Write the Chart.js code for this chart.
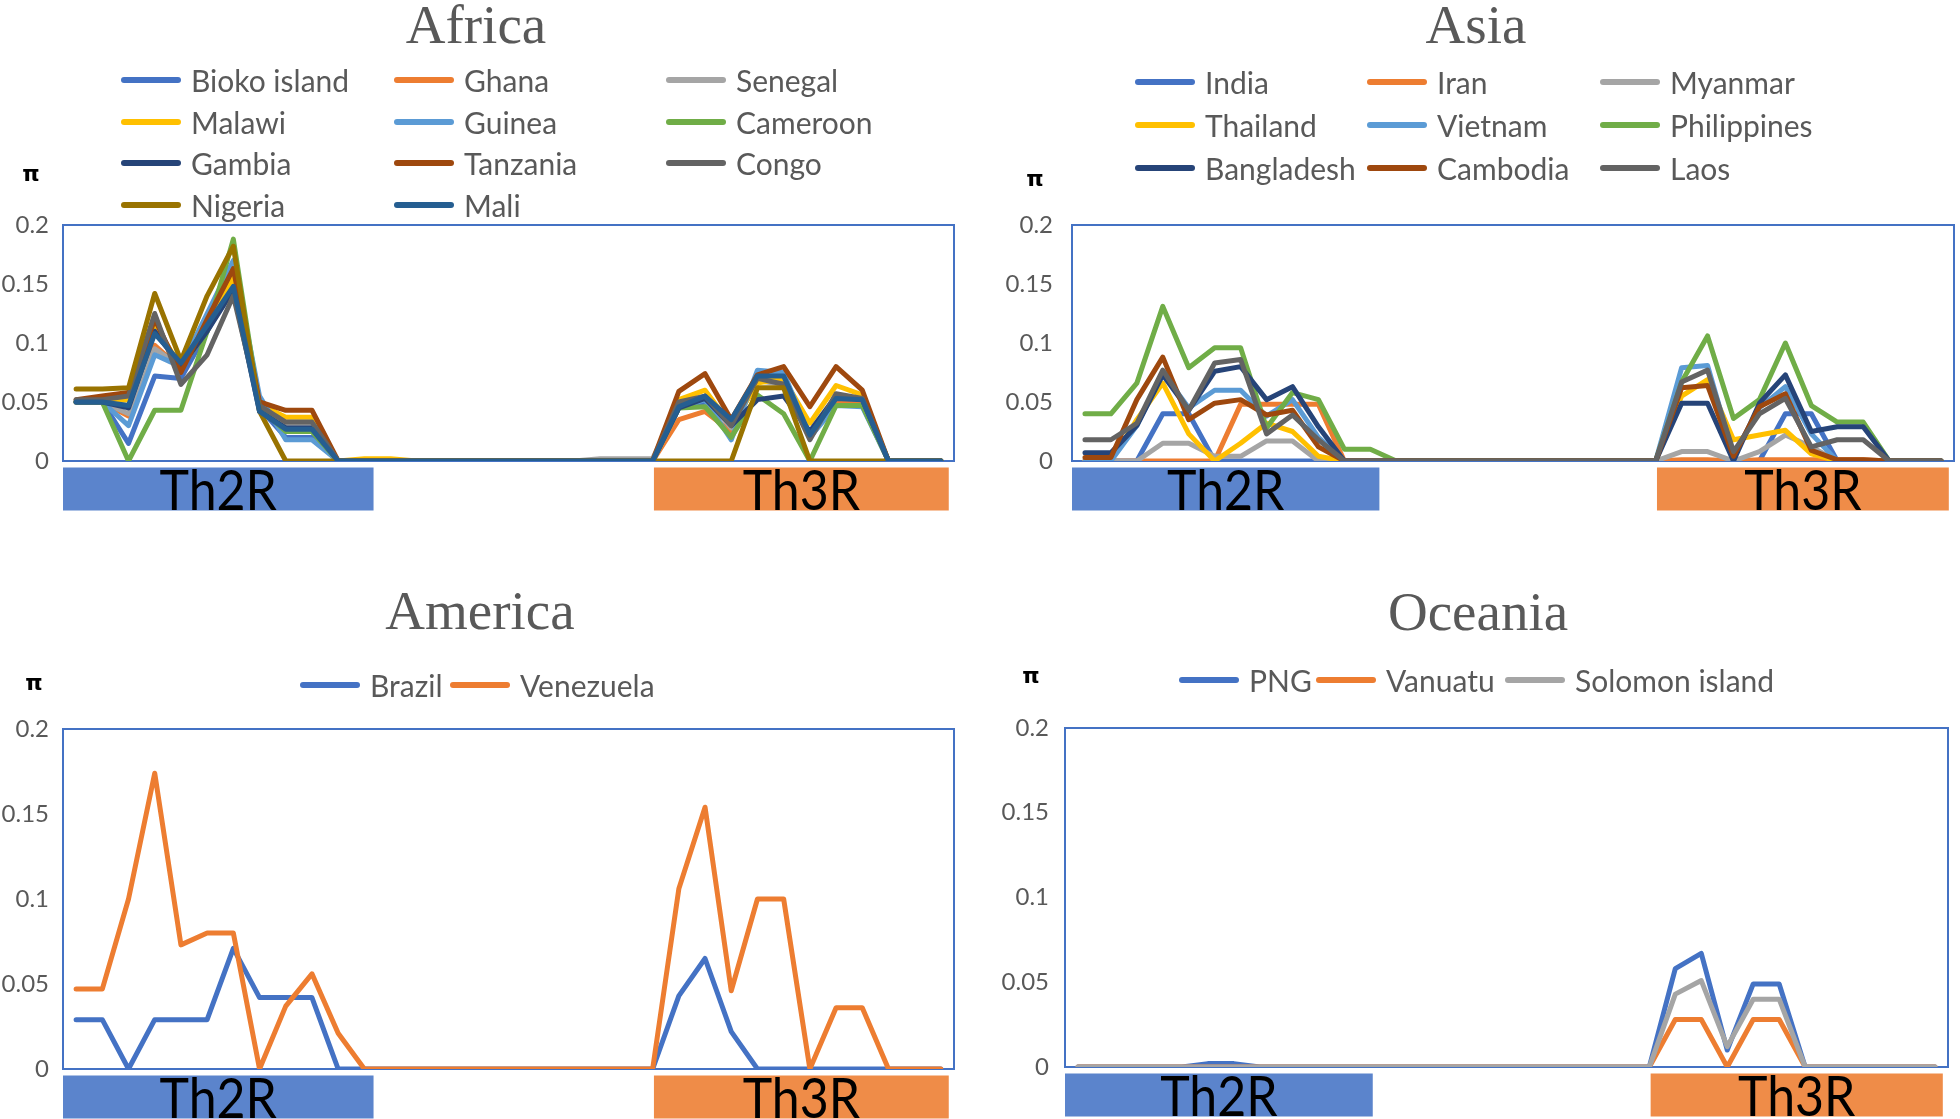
<!DOCTYPE html>
<html>
<head>
<meta charset="utf-8">
<script src="https://cdn.jsdelivr.net/npm/chart.js@4.4.1/dist/chart.umd.min.js"></script>
<style>
  html, body { margin:0; padding:0; background:#ffffff; }
  body { width:1960px; height:1119px; position:relative; overflow:hidden; font-family:Lato, 'Open Sans', sans-serif; }
  canvas { position:absolute; }
  .title { position:absolute; font-family:'Liberation Serif', 'DejaVu Serif', serif; font-size:55px; color:#595959; line-height:1; white-space:nowrap; transform:translate(-50%,-50%); }
  .leg { position:absolute; display:flex; align-items:center; transform:translateY(-50%); font-family:Lato, sans-serif; font-size:30px; color:#595959; line-height:1; white-space:nowrap; }
  .leg .ln { display:inline-block; width:60px; height:6px; border-radius:3px; margin-right:10px; }
  .pi { position:absolute; font-family:'DejaVu Sans', sans-serif; font-weight:bold; font-size:22px; color:#000; line-height:1; transform:translate(-50%,-50%); }
</style>
</head>
<body>
<canvas id="cAfrica" width="980" height="560" style="left:0px;top:0px"></canvas>
<canvas id="cAsia" width="980" height="560" style="left:980px;top:0px"></canvas>
<canvas id="cAmerica" width="980" height="559" style="left:0px;top:560px"></canvas>
<canvas id="cOceania" width="980" height="559" style="left:980px;top:560px"></canvas>

<div class="title" style="left:476px;top:24px">Africa</div>
<div class="title" style="left:1476px;top:24px">Asia</div>
<div class="title" style="left:480px;top:610px">America</div>
<div class="title" style="left:1478px;top:611px">Oceania</div>

<div class="pi" style="left:31px;top:174px">π</div>
<div class="pi" style="left:1035px;top:179px">π</div>
<div class="pi" style="left:34px;top:683px">π</div>
<div class="pi" style="left:1031px;top:676px">π</div>

<div id="legends"></div>

<script>
// ---------------- data ----------------
const positions = ['1','2','3','4','5','6','7','8','9','10','11','12','13','14','15','16','17',
                   '18','19','20','21','22','23','24','25','26','27','28','29','30','31','32','33','34'];
const yTickLabels = ['0', '0.05', '0.1', '0.15', '0.2'];
const regionNames = ['Th2R', 'Th3R'];
const regionFrom = [-0.5, 22.05];
const regionTo = [11.35, 33.3];

// Africa
const africaNames = ['Bioko island','Ghana','Senegal','Malawi','Guinea','Cameroon','Gambia','Tanzania','Congo','Nigeria','Mali'];
const bioko    = [0.05,0.05,0.015,0.072,0.07,0.11,0.15,0.045,0.02,0.02, 0,0,0,0,0,0,0,0,0,0,0,0, 0,0.045,0.05,0.03,0.072,0.07,0.02,0.05,0.05,0,0,0];
const ghana    = [0.05,0.05,0.038,0.098,0.078,0.12,0.165,0.048,0.03,0.03, 0,0,0,0,0,0,0,0,0,0,0,0, 0,0.035,0.042,0.025,0.07,0.068,0.022,0.05,0.05,0,0,0];
const senegal  = [0.05,0.05,0.04,0.095,0.08,0.115,0.16,0.045,0.03,0.03, 0,0,0,0,0,0,0,0,0,0,0.002,0.002, 0.002,0.048,0.055,0.028,0.068,0.065,0.02,0.055,0.052,0,0,0];
const malawi   = [0.05,0.05,0.052,0.115,0.08,0.11,0.155,0.048,0.037,0.037, 0,0.002,0.002,0,0,0,0,0,0,0,0,0, 0,0.052,0.06,0.03,0.066,0.07,0.032,0.064,0.056,0,0,0];
const guinea   = [0.05,0.05,0.03,0.09,0.08,0.125,0.17,0.055,0.018,0.018, 0,0,0,0,0,0,0,0,0,0,0,0, 0,0.045,0.052,0.018,0.077,0.075,0.02,0.047,0.046,0,0,0];
const cameroon = [0.05,0.05,0,0.043,0.043,0.11,0.188,0.045,0.025,0.025, 0,0,0,0,0,0,0,0,0,0,0,0, 0,0.045,0.046,0.02,0.056,0.04,0,0.047,0.047,0,0,0];
const gambia   = [0.05,0.05,0.045,0.11,0.08,0.11,0.145,0.042,0.028,0.028, 0,0,0,0,0,0,0,0,0,0,0,0, 0,0.045,0.053,0.03,0.052,0.055,0.025,0.055,0.052,0,0,0];
const tanzania = [0.052,0.055,0.058,0.12,0.075,0.12,0.163,0.05,0.043,0.043, 0,0,0,0,0,0,0,0,0,0,0,0, 0,0.059,0.074,0.035,0.073,0.08,0.046,0.08,0.06,0,0,0];
const congo    = [0.052,0.052,0.055,0.125,0.065,0.09,0.14,0.047,0.033,0.033, 0,0,0,0,0,0,0,0,0,0,0,0, 0,0.05,0.055,0.03,0.07,0.065,0.018,0.057,0.053,0,0,0];
const nigeria  = [0.061,0.061,0.062,0.142,0.085,0.14,0.182,0.042,0,0, 0,0,0,0,0,0,0,0,0,0,0,0, 0,0,0,0,0.062,0.062,0,0,0,0,0,0];
const mali     = [0.05,0.05,0.047,0.108,0.083,0.115,0.148,0.042,0.027,0.027, 0,0,0,0,0,0,0,0,0,0,0,0, 0,0.046,0.055,0.035,0.072,0.072,0.022,0.053,0.052,0,0,0];

// Asia
const asiaNames = ['India','Iran','Myanmar','Thailand','Vietnam','Philippines','Bangladesh','Cambodia','Laos'];
const india       = [0,0,0,0.04,0.04,0,0,0,0,0,0,0,0, 0,0,0,0,0,0,0,0,0, 0,0,0,0,0,0.04,0.04,0,0,0,0,0];
const iran        = [0,0,0,0,0,0,0.048,0.048,0.048,0.048,0,0,0, 0,0,0,0,0,0,0,0,0, 0,0.001,0.001,0,0.001,0.001,0.001,0.001,0.001,0,0,0];
const myanmar     = [0,0,0,0.015,0.015,0.004,0.004,0.017,0.017,0,0,0,0, 0,0,0,0,0,0,0,0,0, 0,0.008,0.008,0,0.008,0.022,0.012,0,0,0,0,0];
const thailand    = [0,0,0.035,0.066,0.023,0,0.015,0.032,0.025,0.004,0,0,0, 0,0,0,0,0,0,0,0,0, 0,0.055,0.069,0.018,0.022,0.026,0.006,0,0,0,0,0];
const vietnam     = [0,0,0.03,0.075,0.045,0.06,0.06,0.038,0.052,0.02,0,0,0, 0,0,0,0,0,0,0,0,0, 0,0.079,0.081,0.005,0.045,0.063,0.023,0,0,0,0,0];
const philippines = [0.04,0.04,0.066,0.131,0.079,0.096,0.096,0.028,0.058,0.052,0.01,0.01,0, 0,0,0,0,0,0,0,0,0, 0,0.067,0.106,0.036,0.052,0.1,0.047,0.033,0.033,0,0,0];
const bangladesh  = [0.007,0.007,0.03,0.073,0.043,0.076,0.08,0.052,0.063,0.029,0,0,0, 0,0,0,0,0,0,0,0,0, 0,0.049,0.049,0,0.049,0.073,0.025,0.029,0.029,0,0,0];
const cambodia    = [0.003,0.003,0.052,0.088,0.035,0.049,0.052,0.039,0.043,0.012,0,0,0, 0,0,0,0,0,0,0,0,0, 0,0.062,0.064,0.004,0.046,0.057,0.009,0.001,0.001,0,0,0];
const laos        = [0.018,0.018,0.032,0.077,0.043,0.083,0.086,0.023,0.039,0.018,0,0,0, 0,0,0,0,0,0,0,0,0, 0,0.067,0.077,0.008,0.04,0.053,0.012,0.018,0.018,0,0,0];

// America
const americaNames = ['Brazil','Venezuela'];
const brazil    = [0.029,0.029,0,0.029,0.029,0.029,0.071,0.042,0.042,0.042,0, 0,0,0,0,0,0,0,0,0,0,0, 0,0.043,0.065,0.022,0,0,0,0,0,0,0,0];
const venezuela = [0.047,0.047,0.1,0.174,0.073,0.08,0.08,0,0.037,0.056,0.021, 0,0,0,0,0,0,0,0,0,0,0, 0,0.106,0.154,0.046,0.1,0.1,0,0.036,0.036,0,0,0];

// Oceania
const oceaniaNames = ['PNG','Vanuatu','Solomon island'];
const png     = [0,0,0,0,0,0.002,0.002,0,0,0,0, 0,0,0,0,0,0,0,0,0,0,0, 0,0.058,0.067,0.01,0.049,0.049,0,0,0,0,0,0];
const vanuatu = [0,0,0,0,0,0,0,0,0,0,0, 0,0,0,0,0,0,0,0,0,0,0, 0,0.028,0.028,0,0.028,0.028,0,0,0,0,0,0];
const solomon = [0,0,0,0,0,0,0,0,0,0,0, 0,0,0,0,0,0,0,0,0,0,0, 0,0.043,0.051,0.012,0.04,0.04,0,0,0,0,0,0];

// ---------------- styles ----------------
const africaColors  = ['#4472C4','#ED7D31','#A5A5A5','#FFC000','#5B9BD5','#70AD47','#264478','#9E480E','#636363','#997300','#255E91'];
const asiaColors    = ['#4472C4','#ED7D31','#A5A5A5','#FFC000','#5B9BD5','#70AD47','#264478','#9E480E','#636363'];
const americaColors = ['#4472C4','#ED7D31'];
const oceaniaColors = ['#4472C4','#ED7D31','#A5A5A5'];
const regionColors  = ['#5B84CC','#EF8C48'];

const framePlugin = {
  id: 'frameAndRegions',
  beforeDatasetsDraw(chart) {
    const { ctx, chartArea: a } = chart;
    ctx.save();
    ctx.strokeStyle = '#4472C4';
    ctx.lineWidth = 2;
    ctx.strokeRect(a.left, a.top, a.right - a.left, a.bottom - a.top);
    ctx.restore();
  },
  afterDraw(chart) {
    const { ctx, chartArea: a, scales } = chart;
    const xs = scales.x;
    regionNames.forEach((name, k) => {
      const x1 = xs.getPixelForValue(regionFrom[k]);
      const x2 = xs.getPixelForValue(regionTo[k]);
      const y = a.bottom + 6.5;
      ctx.save();
      ctx.fillStyle = regionColors[k];
      ctx.fillRect(x1, y, x2 - x1, 43);
      ctx.fillStyle = '#000000';
      ctx.font = '50px Lato';
      ctx.textAlign = 'center';
      ctx.textBaseline = 'alphabetic';
      ctx.translate((x1 + x2) / 2, y + 42);
      ctx.scale(1, 1.12);
      ctx.fillText(name, 0, 0);
      ctx.restore();
    });
  }
};

function makeChart(id, names, series, colors, lay) {
  const n = series.length;
  const datasets = series.map((d, i) => ({
    label: names[i], data: d,
    borderColor: colors[i], backgroundColor: colors[i],
    borderWidth: 5, pointRadius: 0, pointHoverRadius: 0, tension: 0, fill: false,
    borderJoinStyle: 'round', borderCapStyle: 'round',
    order: n - i
  }));
  return new Chart(document.getElementById(id), {
    type: 'line',
    data: { labels: positions, datasets },
    options: {
      responsive: false, animation: false, devicePixelRatio: 1,
      layout: { padding: { left: 0, right: lay.r, top: lay.t, bottom: lay.b } },
      plugins: { legend: { display: false }, tooltip: { enabled: false }, title: { display: false } },
      scales: {
        x: { type: 'category', display: false, offset: true },
        y: {
          min: 0, max: 0.2,
          ticks: { stepSize: 0.05, color: '#595959', font: { family: 'Lato', size: 24 }, padding: lay.tp,
                   callback: (v, i) => yTickLabels[i] },
          grid: { display: false, drawTicks: false },
          border: { display: false },
          afterFit: (s) => { s.width = lay.yw; }
        }
      }
    },
    plugins: [framePlugin]
  });
}

function addLegend(names, colors, xs, ys) {
  const host = document.getElementById('legends');
  names.forEach((nm, i) => {
    const d = document.createElement('div');
    d.className = 'leg';
    d.style.left = xs[i] + 'px';
    d.style.top = ys[i] + 'px';
    const ln = document.createElement('span');
    ln.className = 'ln';
    ln.style.background = colors[i];
    const t = document.createElement('span');
    t.textContent = nm;
    d.appendChild(ln); d.appendChild(t);
    host.appendChild(d);
  });
}

function build() {
  makeChart('cAfrica', africaNames,
    [bioko, ghana, senegal, malawi, guinea, cameroon, gambia, tanzania, congo, nigeria, mali],
    africaColors, { yw: 63, r: 26, t: 225, b: 99, tp: 14 });
  makeChart('cAsia', asiaNames,
    [india, iran, myanmar, thailand, vietnam, philippines, bangladesh, cambodia, laos],
    asiaColors, { yw: 92, r: 6, t: 225, b: 99, tp: 19 });
  makeChart('cAmerica', americaNames, [brazil, venezuela],
    americaColors, { yw: 63, r: 26, t: 169, b: 50, tp: 14 });
  makeChart('cOceania', oceaniaNames, [png, vanuatu, solomon],
    oceaniaColors, { yw: 85, r: 12, t: 168, b: 52, tp: 16 });

  addLegend(africaNames, africaColors,
    [121, 394, 666, 121, 394, 666, 121, 394, 666, 121, 394],
    [80, 80, 80, 122, 122, 122, 163, 163, 163, 205, 205]);
  addLegend(asiaNames, asiaColors,
    [1135, 1367, 1600, 1135, 1367, 1600, 1135, 1367, 1600],
    [82, 82, 82, 125, 125, 125, 168, 168, 168]);
  addLegend(americaNames, americaColors, [300, 450], [685, 685]);
  addLegend(oceaniaNames, oceaniaColors, [1179, 1316, 1505], [680, 680, 680]);
}

const fontReady = (document.fonts && document.fonts.load)
  ? Promise.all([document.fonts.load('24px Lato'), document.fonts.load('50px Lato')]).catch(() => {})
  : Promise.resolve();
fontReady.then(build);
</script>
</body>
</html>
